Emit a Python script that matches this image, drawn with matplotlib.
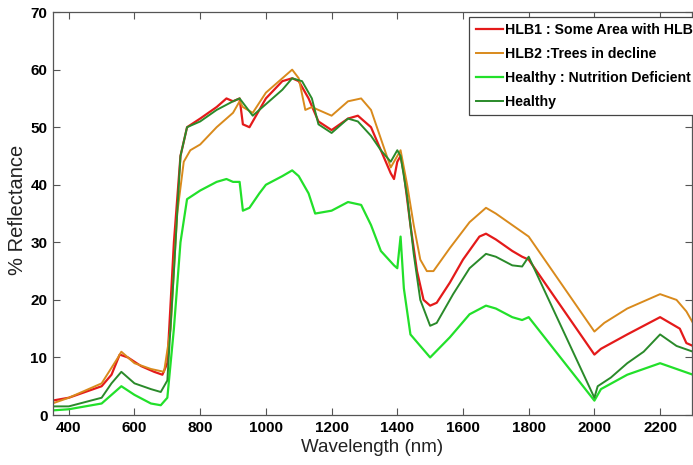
import matplotlib.pyplot as plt
from matplotlib import font_manager

# wavelength (nm) / reflectance (%)
hlb1_wl = [350, 400, 450, 500, 530, 555, 580, 620, 660, 685, 700, 720, 740, 760, 800, 850, 880, 900, 920,
           930, 950, 970, 1000, 1050, 1080, 1100, 1130, 1160, 1200, 1250, 1280, 1320, 1350, 1380, 1390, 1400,
           1410, 1420, 1440, 1460, 1480, 1500, 1520, 1560, 1600, 1650, 1670, 1700, 1750, 1780, 1800, 2000,
           2020, 2100, 2150, 2200, 2230, 2260, 2280, 2300]
hlb1_r = [2.5, 3.0, 4.0, 5.0, 7.0, 10.5, 10.0, 8.5, 7.5, 7.0, 9.0, 30.0, 45.0, 50.0, 51.5, 53.5, 55.0, 54.5, 55.0,
          50.5, 50.0, 52.0, 55.0, 58.0, 58.5, 58.0, 55.0, 51.0, 49.5, 51.5, 52.0, 50.0, 46.0, 42.0, 41.0, 44.0,
          45.0, 42.0, 33.0, 25.0, 20.0, 19.0, 19.5, 23.0, 27.0, 31.0, 31.5, 30.5, 28.5, 27.5, 27.0, 10.5,
          11.5, 14.0, 15.5, 17.0, 16.0, 15.0, 12.5, 12.0]

hlb2_wl = [350, 400, 500, 550, 560, 600, 650, 690, 710, 730, 750, 770, 800, 850, 900, 920, 930, 960, 1000,
           1050, 1080, 1100, 1120, 1140, 1160, 1200, 1250, 1290, 1320, 1350, 1380, 1400, 1410, 1430, 1450, 1470,
           1490, 1510, 1560, 1620, 1670, 1700, 1750, 1800, 2000, 2030, 2100, 2200, 2250, 2280, 2300]
hlb2_r = [2.0, 3.0, 5.5, 10.0, 11.0, 9.0, 8.0, 7.5, 15.0, 35.0, 44.0, 46.0, 47.0, 50.0, 52.5, 54.5, 53.5, 52.5, 56.0,
          58.5, 60.0, 58.5, 53.0, 53.5, 53.0, 52.0, 54.5, 55.0, 53.0, 48.0, 43.0, 45.0, 46.0, 40.0, 33.0, 27.0,
          25.0, 25.0, 29.0, 33.5, 36.0, 35.0, 33.0, 31.0, 14.5, 16.0, 18.5, 21.0, 20.0, 18.0, 16.0]

nutr_wl = [350, 400, 500, 530, 560, 600, 650, 680, 700, 720, 740, 760, 800, 850, 880, 900, 920, 930, 950, 980,
           1000, 1050, 1080, 1100, 1130, 1150, 1200, 1250, 1290, 1320, 1350, 1390, 1400, 1410, 1420, 1440, 1470,
           1500, 1560, 1620, 1670, 1700, 1750, 1780, 1800, 2000, 2020, 2100, 2200, 2250, 2300]
nutr_r = [0.8, 1.0, 2.0, 3.5, 5.0, 3.5, 2.0, 1.7, 3.0, 15.0, 30.0, 37.5, 39.0, 40.5, 41.0, 40.5, 40.5, 35.5, 36.0, 38.5,
          40.0, 41.5, 42.5, 41.5, 38.5, 35.0, 35.5, 37.0, 36.5, 33.0, 28.5, 26.0, 25.5, 31.0, 22.0, 14.0, 12.0,
          10.0, 13.5, 17.5, 19.0, 18.5, 17.0, 16.5, 17.0, 2.5, 4.5, 7.0, 9.0, 8.0, 7.0]

healthy_wl = [350, 400, 500, 530, 560, 600, 650, 680, 700, 720, 740, 760, 800, 850, 900, 920, 940, 960, 1000,
              1050, 1080, 1110, 1140, 1160, 1200, 1250, 1280, 1320, 1350, 1380, 1400, 1410, 1430, 1450, 1470,
              1500, 1520, 1570, 1620, 1670, 1700, 1750, 1780, 1800, 2000, 2010, 2050, 2100, 2150, 2200, 2250, 2300]
healthy_r = [1.5, 1.5, 3.0, 5.5, 7.5, 5.5, 4.5, 4.0, 6.0, 25.0, 45.0, 50.0, 51.0, 53.0, 54.5, 55.0, 53.5, 52.0, 54.0,
             56.5, 58.5, 58.0, 55.0, 50.5, 49.0, 51.5, 51.0, 48.5, 46.0, 44.0, 46.0, 45.0, 38.0, 28.0, 20.0,
             15.5, 16.0, 21.0, 25.5, 28.0, 27.5, 26.0, 25.8, 27.5, 3.0, 5.0, 6.5, 9.0, 11.0, 14.0, 12.0, 11.0]

labels = ['HLB1 : Some Area with HLB', 'HLB2 :Trees in decline', 'Healthy : Nutrition Deficient', 'Healthy']
colors = ['#e41a1a', '#d98a1c', '#22e02a', '#2a8a2a']

names = {f.name for f in font_manager.fontManager.ttflist}
has_narrow = 'Liberation Sans Narrow' in names
narrow = 'Liberation Sans Narrow' if has_narrow else 'Liberation Sans'
tick_size = 12 if has_narrow else 11
leg_size = 12 if has_narrow else 10.2

fig = plt.figure(figsize=(6.93, 4.65), dpi=100)
ax = fig.add_axes([0.0765, 0.1075, 0.922, 0.8665])

ax.plot(hlb1_wl, hlb1_r, color=colors[0], lw=1.6, label=labels[0])
ax.plot(hlb2_wl, hlb2_r, color=colors[1], lw=1.4, label=labels[1])
ax.plot(nutr_wl, nutr_r, color=colors[2], lw=1.6, label=labels[2])
ax.plot(healthy_wl, healthy_r, color=colors[3], lw=1.4, label=labels[3])

ax.set_xlim(352, 2297)
ax.set_ylim(0, 70)
ax.set_xticks(range(400, 2201, 200))
ax.set_yticks(range(0, 71, 10))
ax.tick_params(direction='in', top=True, right=True, length=5, width=0.8, color='#555555', pad=4)
for lab in ax.get_xticklabels() + ax.get_yticklabels():
    lab.set_family(narrow)
    lab.set_fontweight('bold')
    lab.set_fontsize(tick_size)
for s in ax.spines.values():
    s.set_color('#555555')
    s.set_linewidth(0.9)

ax.set_xlabel('Wavelength (nm)', family='Liberation Sans', fontsize=13.5, labelpad=3, color='#222222')
ax.set_ylabel('% Reflectance', family='Liberation Sans', fontsize=14.5, color='#222222')
ax.yaxis.set_label_coords(-0.04, 0.51)

leg = ax.legend(loc='upper right', bbox_to_anchor=(1.012, 0.988), fancybox=False, framealpha=1,
                edgecolor='#444444', handlelength=1.9, handletextpad=0.2, borderpad=0.45, labelspacing=0.7,
                borderaxespad=0, prop={'family': narrow, 'weight': 'bold', 'size': leg_size})
leg.get_frame().set_linewidth(0.9)

fig.savefig('out.png', dpi=100)
